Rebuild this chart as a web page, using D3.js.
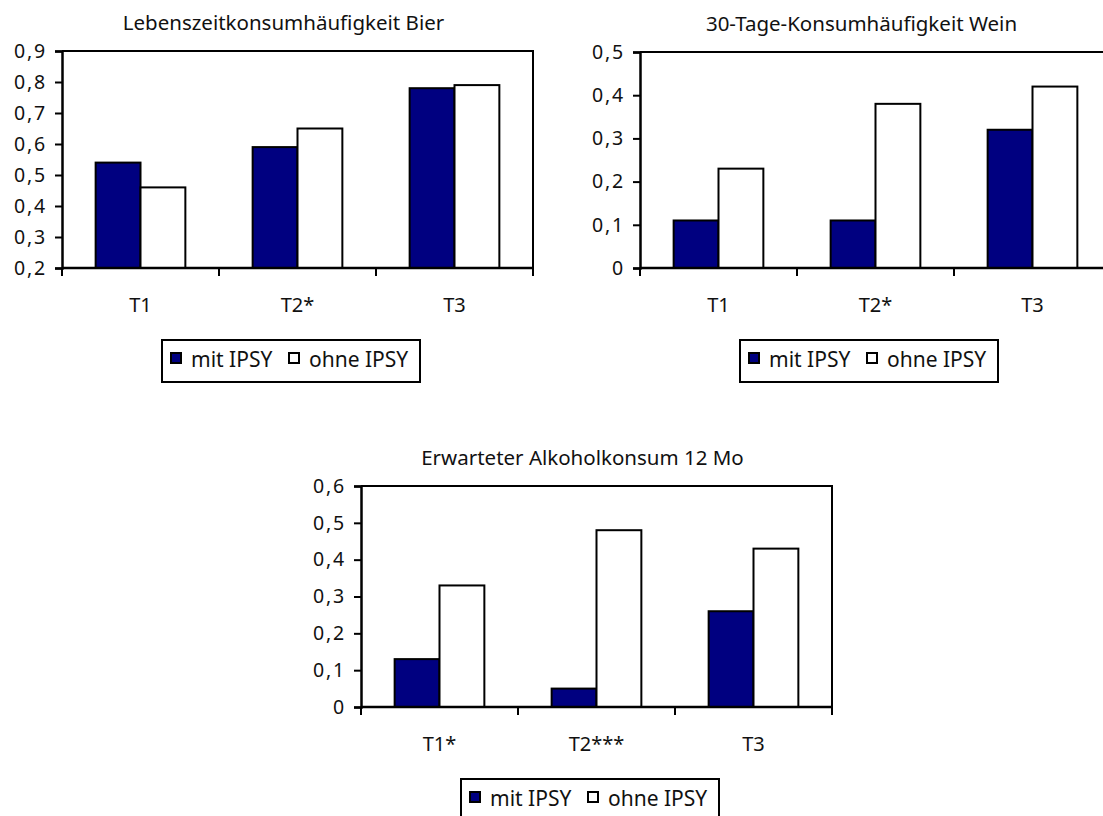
<!DOCTYPE html>
<html>
<head>
<meta charset="utf-8">
<script src="https://cdn.jsdelivr.net/npm/d3@7"></script>
<style>
  html, body { margin: 0; padding: 0; background: #fff; }
  svg { display: block; }
  text { font-family: "Noto Sans", "Open Sans", sans-serif; fill: #111; }
</style>
</head>
<body>
<svg id="chart" width="1103" height="816"></svg>
<script>
// Survey waves and the two comparison groups
const categoriesA = ["T1", "T2*", "T3"];
const categoriesB = ["T1", "T2*", "T3"];
const categoriesC = ["T1*", "T2***", "T3"];
const seriesNames = ["mit IPSY", "ohne IPSY"];

// Lebenszeitkonsumhäufigkeit Bier
const bierMit = [0.54, 0.59, 0.78];
const bierOhne = [0.46, 0.65, 0.79];
const bierTicks = [0.2, 0.3, 0.4, 0.5, 0.6, 0.7, 0.8, 0.9];

// 30-Tage-Konsumhäufigkeit Wein
const weinMit = [0.11, 0.11, 0.32];
const weinOhne = [0.23, 0.38, 0.42];
const weinTicks = [0, 0.1, 0.2, 0.3, 0.4, 0.5];

// Erwarteter Alkoholkonsum 12 Mo
const erwMit = [0.13, 0.05, 0.26];
const erwOhne = [0.33, 0.48, 0.43];
const erwTicks = [0, 0.1, 0.2, 0.3, 0.4, 0.5, 0.6];

const panels = [
  { title: "Lebenszeitkonsumhäufigkeit Bier", cats: categoriesA, mit: bierMit, ohne: bierOhne,
    ticks: bierTicks, x: 62, y: 51, w: 471, h: 217 },
  { title: "30-Tage-Konsumhäufigkeit Wein", cats: categoriesB, mit: weinMit, ohne: weinOhne,
    ticks: weinTicks, x: 640, y: 52, w: 471, h: 216 },
  { title: "Erwarteter Alkoholkonsum 12 Mo", cats: categoriesC, mit: erwMit, ohne: erwOhne,
    ticks: erwTicks, x: 361, y: 486, w: 471, h: 221 }
];

const colors = { "mit IPSY": "#000080", "ohne IPSY": "#ffffff" };
const fmt = v => d3.format(".1f")(v).replace(".", ",").replace(/^0,0$/, "0");

const svg = d3.select("#chart");

panels.forEach(p => {
  const g = svg.append("g").attr("transform", `translate(${p.x},${p.y})`);

  const x = d3.scaleBand().domain(p.cats).range([0, p.w]).padding(0);
  const xs = d3.scaleBand().domain(seriesNames).range([0, x.step()])
    .paddingInner(0).paddingOuter(0.75);
  const y = d3.scaleLinear().domain(d3.extent(p.ticks)).range([p.h, 0]);

  const rows = p.cats.map((c, i) => ({ cat: c, values: [
    { s: "mit IPSY", v: p.mit[i] }, { s: "ohne IPSY", v: p.ohne[i] }
  ]}));

  // bars
  g.selectAll("g.cat").data(rows).join("g")
    .attr("class", "cat")
    .attr("transform", d => `translate(${x(d.cat)},0)`)
    .selectAll("rect").data(d => d.values).join("rect")
    .attr("x", d => xs(d.s))
    .attr("width", xs.bandwidth())
    .attr("y", d => y(d.v))
    .attr("height", d => p.h - y(d.v))
    .attr("fill", d => colors[d.s])
    .attr("stroke", "#000")
    .attr("stroke-width", 2);

  // frame (top and right sides)
  g.append("path")
    .attr("d", `M0,0H${p.w}V${p.h}`)
    .attr("fill", "none").attr("stroke", "#000").attr("stroke-width", 2);

  // y axis
  const yAxis = g.append("g").call(
    d3.axisLeft(y).tickValues(p.ticks).tickSize(7).tickPadding(8).tickFormat(fmt));
  yAxis.select(".domain").attr("stroke-width", 2.5);
  yAxis.selectAll(".tick line").attr("stroke-width", 2);
  yAxis.selectAll("text")
    .style("font-size", "19.5px")
    .style("letter-spacing", "1.8px")
    .attr("fill", "#111");

  // x axis: tick marks at category boundaries, labels centred below
  const bounds = p.cats.map(c => x(c)).concat([p.w]);
  const xAxis = g.append("g").attr("transform", `translate(0,${p.h})`);
  xAxis.append("line").attr("x1", 0).attr("x2", p.w)
    .attr("stroke", "#000").attr("stroke-width", 2.5);
  xAxis.selectAll("line.tk").data(bounds).join("line")
    .attr("class", "tk")
    .attr("x1", d => d).attr("x2", d => d)
    .attr("y1", 0).attr("y2", 8)
    .attr("stroke", "#000").attr("stroke-width", 2);
  xAxis.selectAll("text").data(p.cats).join("text")
    .attr("x", d => x(d) + x.bandwidth() / 2)
    .attr("y", 36)
    .attr("text-anchor", "middle")
    .attr("dominant-baseline", "central")
    .style("font-size", "20px")
    .text(d => d);

  // title
  g.append("text")
    .attr("x", 221.5).attr("y", -29)
    .attr("text-anchor", "middle")
    .attr("dominant-baseline", "central")
    .style("font-size", "20.5px")
    .text(p.title);

  // legend
  const lg = g.append("g").attr("transform", `translate(100,${p.h + 72})`);
  lg.append("rect").attr("width", 258).attr("height", 42)
    .attr("fill", "#fff").attr("stroke", "#000").attr("stroke-width", 2);
  const items = [{ s: "mit IPSY", dx: 9 }, { s: "ohne IPSY", dx: 127 }];
  items.forEach(it => {
    lg.append("rect").attr("x", it.dx).attr("y", 13).attr("width", 10).attr("height", 10)
      .attr("fill", colors[it.s]).attr("stroke", "#000").attr("stroke-width", 2);
    lg.append("text").attr("x", it.dx + 20).attr("y", 19)
      .attr("dominant-baseline", "central")
      .style("font-size", "21px")
      .text(it.s);
  });
});
</script>
</body>
</html>
